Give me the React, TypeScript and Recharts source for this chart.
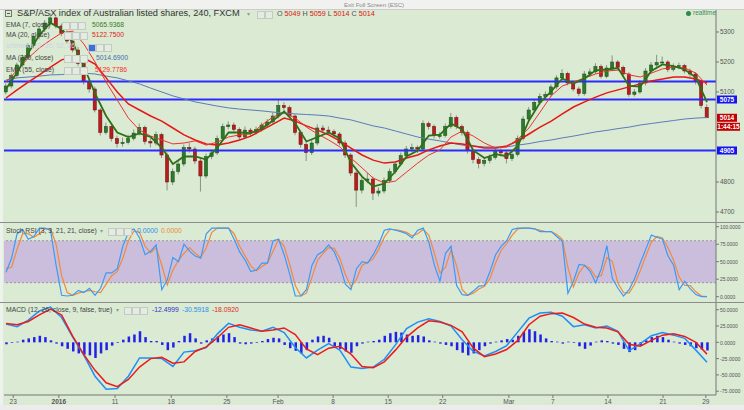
import React from "react";
import { ComposedChart, Bar, Line, XAxis, YAxis, ReferenceLine, ReferenceArea } from "recharts";

const FONT = "'Liberation Sans', Arial, sans-serif";
const BG = "#daead3";
const X_DOMAIN: [number, number] = [-0.36, 127.62];

// date ticks, in 4h-bar-pair index units
const dateTicks = [1.3, 9.5, 19.6, 29.7, 39.7, 48.9, 58.8, 68.7, 78.5, 90.4, 98.3, 108.2, 118.1, 125.8];
const dateLabels = ["23", "2016", "11", "18", "25", "Feb", "8", "15", "22", "Mar", "7", "14", "21", "29"];

// [open, high, low, close]
const candles: [number, number, number, number][] = [
  [5100, 5128, 5092, 5120], [5120, 5162, 5112, 5155], [5155, 5198, 5148, 5190], [5190, 5224, 5182, 5215],
  [5215, 5262, 5208, 5255], [5255, 5294, 5246, 5285], [5285, 5318, 5276, 5310], [5310, 5340, 5300, 5330],
  [5330, 5362, 5322, 5347], [5347, 5352, 5312, 5320], [5320, 5328, 5286, 5295], [5295, 5305, 5262, 5270],
  [5270, 5278, 5232, 5240], [5240, 5250, 5186, 5195], [5195, 5204, 5125, 5135], [5135, 5148, 5098, 5110],
  [5110, 5118, 5032, 5040], [5040, 5046, 4955, 4965], [4965, 4998, 4958, 4985], [4985, 4992, 4935, 4945],
  [4945, 4955, 4915, 4928], [4928, 4948, 4918, 4932], [4932, 4958, 4925, 4945], [4945, 4975, 4938, 4963],
  [4963, 4995, 4955, 4982], [4982, 4988, 4925, 4935], [4935, 4945, 4915, 4930], [4930, 4968, 4922, 4958],
  [4958, 4964, 4880, 4890], [4890, 4898, 4772, 4800], [4800, 4845, 4790, 4835], [4835, 4870, 4826, 4860],
  [4860, 4925, 4852, 4915], [4915, 4930, 4898, 4910], [4910, 4918, 4860, 4870], [4870, 4880, 4768, 4820],
  [4820, 4895, 4812, 4885], [4885, 4908, 4876, 4897], [4897, 4955, 4890, 4945], [4945, 4995, 4938, 4985],
  [4985, 5002, 4976, 4990], [4990, 4998, 4966, 4975], [4975, 4982, 4940, 4950], [4950, 4985, 4944, 4973],
  [4973, 4980, 4952, 4965], [4965, 4985, 4958, 4975], [4975, 4998, 4968, 4990], [4990, 5010, 4982, 5000],
  [5000, 5032, 4994, 5020], [5020, 5075, 5012, 5055], [5055, 5066, 5038, 5048], [5048, 5055, 5012, 5020],
  [5020, 5026, 4956, 4965], [4965, 4972, 4915, 4925], [4925, 4932, 4870, 4898], [4898, 4940, 4890, 4930],
  [4930, 4992, 4922, 4980], [4980, 4990, 4962, 4973], [4973, 4985, 4958, 4968], [4968, 4976, 4950, 4960],
  [4960, 4966, 4922, 4930], [4930, 4938, 4880, 4890], [4890, 4896, 4820, 4830], [4830, 4838, 4717, 4773],
  [4773, 4815, 4762, 4805], [4805, 4830, 4796, 4810], [4810, 4818, 4740, 4763], [4763, 4782, 4752, 4770],
  [4770, 4815, 4762, 4805], [4805, 4845, 4798, 4835], [4835, 4870, 4826, 4860], [4860, 4898, 4852, 4888],
  [4888, 4920, 4880, 4910], [4910, 4928, 4900, 4915], [4915, 4922, 4896, 4910], [4910, 5005, 4904, 4995],
  [4995, 5002, 4975, 4985], [4985, 4992, 4945, 4955], [4955, 4966, 4944, 4955], [4955, 4995, 4948, 4985],
  [4985, 5030, 4978, 5015], [5015, 5022, 4976, 4985], [4985, 4992, 4955, 4965], [4965, 4972, 4895, 4905],
  [4905, 4912, 4862, 4875], [4875, 4884, 4845, 4862], [4862, 4882, 4852, 4872], [4872, 4892, 4862, 4882],
  [4882, 4915, 4875, 4905], [4905, 4912, 4885, 4897], [4897, 4904, 4862, 4878], [4878, 4900, 4870, 4892],
  [4892, 4955, 4885, 4945], [4945, 5020, 4938, 5010], [5010, 5050, 5002, 5040], [5040, 5075, 5032, 5065],
  [5065, 5095, 5058, 5085], [5085, 5102, 5076, 5092], [5092, 5126, 5084, 5117], [5117, 5156, 5110, 5147],
  [5147, 5176, 5140, 5162], [5162, 5168, 5122, 5130], [5130, 5138, 5102, 5110], [5110, 5118, 5086, 5095],
  [5095, 5170, 5088, 5160], [5160, 5178, 5150, 5167], [5167, 5196, 5160, 5185], [5185, 5192, 5145, 5152],
  [5152, 5190, 5146, 5180], [5180, 5222, 5172, 5200], [5200, 5206, 5174, 5182], [5182, 5188, 5152, 5160],
  [5160, 5166, 5084, 5092], [5092, 5110, 5085, 5100], [5100, 5140, 5094, 5130], [5130, 5180, 5122, 5170],
  [5170, 5200, 5162, 5190], [5190, 5224, 5182, 5198], [5198, 5218, 5190, 5200], [5200, 5206, 5166, 5175],
  [5175, 5195, 5168, 5185], [5185, 5198, 5176, 5188], [5188, 5194, 5162, 5170], [5170, 5178, 5150, 5160],
  [5160, 5166, 5125, 5135], [5135, 5140, 5045, 5055], [5049, 5059, 5014, 5014],
];

// moving averages, one value every second bar
const ema7 = [
  5110, 5165, 5230, 5290, 5330, 5310, 5265, 5185, 5095, 5020,
  4965, 4950, 4962, 4950, 4915, 4860, 4885, 4885, 4875, 4915,
  4965, 4965, 4963, 4978, 5005, 5035, 4995, 4935, 4950, 4965,
  4945, 4865, 4818, 4785, 4795, 4835, 4885, 4905, 4955, 4958,
  4995, 4975, 4905, 4880, 4893, 4886, 4920, 5005, 5065, 5102,
  5145, 5128, 5145, 5172, 5175, 5180, 5120, 5118, 5170, 5192,
  5186, 5175, 5148, 5066,
];
const ma20 = [
  5133, 5173, 5213, 5247, 5273, 5297, 5303, 5260, 5200, 5133,
  5073, 5013, 4973, 4953, 4940, 4927, 4930, 4937, 4923, 4933,
  4950, 4957, 4960, 4990, 5017, 5030, 5013, 4983, 4960, 4940,
  4917, 4880, 4847, 4813, 4797, 4803, 4833, 4863, 4890, 4907,
  4950, 4970, 4953, 4930, 4913, 4917, 4943, 4980, 5033, 5087,
  5120, 5133, 5147, 5160, 5170, 5173, 5157, 5150, 5163, 5177,
  5183, 5180, 5163, 5123,
];
const ema55 = [
  5080, 5107, 5133, 5157, 5183, 5207, 5217, 5213, 5193, 5147,
  5100, 5060, 5040, 5020, 5003, 4980, 4957, 4940, 4927, 4923,
  4930, 4940, 4953, 4973, 4993, 5013, 5003, 4987, 4973, 4957,
  4937, 4913, 4890, 4873, 4863, 4867, 4880, 4890, 4907, 4920,
  4930, 4927, 4920, 4913, 4913, 4920, 4937, 4960, 4983, 5003,
  5027, 5050, 5067, 5083, 5097, 5107, 5117, 5127, 5137, 5143,
  5150, 5150, 5143, 5130,
];
const ma200 = [
  5140, 5147, 5150, 5153, 5157, 5158, 5162, 5163, 5160, 5153,
  5147, 5137, 5127, 5113, 5100, 5087, 5077, 5067, 5060, 5053,
  5047, 5043, 5040, 5037, 5033, 5030, 5027, 5025, 5023, 5020,
  5013, 5007, 4997, 4987, 4980, 4970, 4960, 4950, 4943, 4937,
  4930, 4923, 4920, 4917, 4917, 4917, 4923, 4928, 4935, 4940,
  4947, 4953, 4960, 4967, 4972, 4978, 4983, 4990, 4995, 5000,
  5005, 5010, 5013, 5015,
];

const levels = [5135, 5075, 4905];
const taggedLevels = [5075, 4905];
const lastPrice = 5014;
const timer = "1:44:15";

// Stoch RSI, one value per bar
const stochK = [
  35, 55, 90, 96, 82, 86, 98, 98, 95, 45,
  2, 1, 2, 9, 6, 12, 2, 12, 34, 34,
  40, 72, 92, 97, 84, 60, 65, 74, 10, 24,
  56, 50, 75, 65, 58, 55, 90, 98, 98, 98,
  98, 82, 64, 52, 36, 38, 48, 48, 80, 82,
  60, 32, 1, 1, 10, 45, 60, 65, 74, 64,
  45, 18, 10, 40, 50, 48, 60, 75, 95, 97,
  95, 93, 90, 84, 95, 98, 78, 45, 22, 62,
  72, 16, 3, 2, 8, 15, 16, 36, 60, 72,
  80, 96, 98, 98, 98, 97, 93, 93, 93, 86,
  79, 5, 22, 46, 45, 36, 20, 40, 73, 26,
  12, 1, 10, 26, 48, 68, 88, 85, 82, 58,
  45, 10, 22, 11, 3, 0, 0,
];
const stochD = [
  40, 42, 68, 90, 90, 85, 90, 97, 97, 75,
  30, 6, 2, 5, 7, 9, 7, 6, 18, 30,
  36, 55, 80, 94, 92, 72, 63, 70, 45, 17,
  38, 52, 62, 70, 62, 56, 70, 92, 98, 98,
  98, 90, 72, 58, 44, 37, 43, 48, 65, 82,
  72, 46, 16, 1, 5, 28, 52, 62, 70, 69,
  55, 32, 14, 25, 45, 49, 54, 68, 85, 96,
  96, 94, 92, 87, 90, 96, 88, 62, 34, 42,
  67, 44, 10, 2, 5, 11, 15, 26, 48, 66,
  76, 88, 97, 98, 98, 97, 95, 93, 93, 89,
  82, 42, 14, 34, 45, 40, 28, 30, 56, 50,
  19, 6, 5, 18, 37, 58, 78, 86, 84, 70,
  52, 28, 16, 16, 7, 1, 0,
];

// MACD lines every second bar, histogram per bar
const macdLine = [
  28, 24, 34, 48, 54, 38, 8, -20, -52, -72,
  -71, -52, -24, -24, -25, -37, -15, -13, -8, 13,
  29, 23, 19, 17, 23, 15, -8, -24, -12, -2,
  -12, -38, -40, -38, -26, -4, 21, 31, 36, 32,
  25, 4, -14, -21, -14, -5, 16, 37, 45, 46,
  40, 24, 27, 22, 25, 17, -13, -2, 10, 15,
  11, 6, -12, -30.6,
];
const signalLine = [
  29, 27, 32, 42, 51, 42, 9, -19, -43, -62,
  -68, -57, -38, -25, -23, -32, -30, -14, -7, 7,
  23, 27, 22, 17, 19, 22, 12, -10, -19, -9,
  -6, -18, -37, -39, -30, -12, 8, 22, 33, 31,
  26, 16, -9, -22, -18, -11, 3, 27, 40, 44,
  45, 38, 28, 23, 22, 16, -3, -6, 3, 11,
  13, 9, 0, -18.1,
];
const macdHist = [
  -3, -1, 1, 4, 6, 8, 10, 8, 3, -2,
  -6, -10, -14, -17, -19, -20, -24, -17, -12, -5,
  -1, 4, 9, 12, 17, 8, 2, 2, -4, -12,
  -8, 2, 10, 14, 6, -2, 3, 6, 9, 12,
  14, 8, -2, -3, -2, -1, 2, 5, 7, 6,
  -4, -9, -13, -17, -12, 4, 9, 10, 7, -6,
  -10, -14, -16, -6, -2, 1, 2, 4, 10, 14,
  16, 15, 12, 10, 11, 9, 3, 1, -2, -4,
  -6, -12, -16, -20, -17, -12, -6, -2, 1, 3,
  5, 4, 10, 16, 20, 17, 12, 6, 2, 1,
  -2, 1, -1, -6, -10, -5, 1, 3, 2, -2,
  -4, -10, -15, -12, -5, 3, 8, 10, 8, 4,
  1, -2, -4, -6, -9, -11, -12.5,
];

const candleRows = candles.map(([o, h, l, c], i) => ({ i, range: [l, h], ohlc: [o, h, l, c] }));
const everyOther = (vals: number[]) => vals.map((v, k) => ({ i: k * 2, v }));
const stochRows = stochK.map((k, i) => ({ i, k, d: stochD[i] }));
const histRows = macdHist.map((v, i) => ({ i, v }));

function Candle(props: any) {
  const { x, y, width, height, payload } = props;
  if (payload == null || height == null) return null;
  const [o, h, l, c] = payload.ohlc;
  const top = Math.min(y, y + height);
  const hh = Math.abs(height);
  const py = (v: number) => top + ((h - v) / (h - l || 1)) * hh;
  const cx = x + width / 2;
  const up = c >= o;
  const bTop = py(Math.max(o, c));
  const bBot = py(Math.min(o, c));
  return (
    <g>
      <line x1={cx} x2={cx} y1={top} y2={top + hh} stroke="#8a9287" strokeWidth={1} />
      <rect
        x={cx - 1.6}
        y={bTop}
        width={3.2}
        height={Math.max(1, bBot - bTop)}
        fill={up ? "#2c7a2c" : "#b81d1d"}
        stroke={up ? "#174a17" : "#6a0c0c"}
        strokeWidth={0.5}
      />
    </g>
  );
}

function PriceTag(props: any) {
  const { viewBox, text, color, sub } = props;
  if (!viewBox) return null;
  const x = viewBox.x + viewBox.width + 1;
  const y = viewBox.y;
  return (
    <g>
      <rect x={x} y={y - 4} width={20} height={8} fill={color} />
      <text x={x + 10} y={y + 2.5} fontSize={6.5} fontWeight="bold" fill="#fff" textAnchor="middle" fontFamily={FONT}>
        {text}
      </text>
      {sub && (
        <>
          <rect x={x} y={y + 5} width={23} height={8} fill={color} />
          <text x={x + 11.5} y={y + 11.5} fontSize={6.5} fontWeight="bold" fill="#fff" textAnchor="middle" fontFamily={FONT}>
            {sub}
          </text>
        </>
      )}
    </g>
  );
}

function PriceTick(props: any) {
  const { x, y, payload } = props;
  return (
    <text x={x} y={y + 2.2} fontSize={6.5} fill="#555" fontFamily={FONT}>
      {payload.value}
    </text>
  );
}

function FixedTick(props: any) {
  const { x, y, payload } = props;
  const s = Number(payload.value).toFixed(4);
  return (
    <text x={x} y={y + 2.2} fontSize={6} fill="#555" fontFamily={FONT} textLength={s.length * 2.55} lengthAdjust="spacingAndGlyphs">
      {s}
    </text>
  );
}

function DateTick(props: any) {
  const { x, y, payload } = props;
  const label = dateLabels[dateTicks.indexOf(payload.value)] ?? "";
  return (
    <text x={x} y={y + 5} textAnchor="middle" fontSize={6.5} fill="#555" fontFamily={FONT} fontWeight={label === "2016" ? "bold" : "normal"}>
      {label}
    </text>
  );
}

function Txt({ x, y, size = 6.8, color = "#444", children, bold = false }: any) {
  return (
    <div
      style={{
        position: "absolute",
        left: x,
        top: y - (size + 2) / 2,
        fontSize: size,
        lineHeight: `${size + 2}px`,
        color,
        whiteSpace: "nowrap",
        fontWeight: bold ? "bold" : "normal",
      }}
    >
      {children}
    </div>
  );
}

function Icons({ x, y, first, count = 3 }: { x: number; y: number; first?: string; count?: number }) {
  return (
    <>
      {Array.from({ length: count }, (_, k) => (
        <div
          key={k}
          style={{
            position: "absolute",
            left: x + k * 8,
            top: y - 3,
            width: 6,
            height: 6,
            border: "1px solid #c4cbc2",
            background: k === 0 && first ? first : "#e4ebe2",
          }}
        />
      ))}
    </>
  );
}

const yAxisStyle = {
  orientation: "right" as const,
  width: 28,
  axisLine: { stroke: "#777" },
  tickLine: { stroke: "#777" },
  tickSize: 3,
  tickMargin: 1,
  interval: 0 as const,
  allowDataOverflow: true,
};

export default function App() {
  return (
    <div style={{ position: "absolute", left: 0, top: 0, width: 744, height: 410, background: BG, overflow: "hidden", fontFamily: FONT }}>
      <div style={{ position: "absolute", left: 0, top: 0, width: 744, height: 9, background: "#f1f2f0", borderBottom: "1px solid #c9cfc7" }} />
      <Txt x={344} y={4.5} size={6} color="#888">Exit Full Screen (ESC)</Txt>
      <div style={{ position: "absolute", left: 0, top: 10, width: 3, height: 395, background: "#eef2ec" }} />

      <div style={{ position: "absolute", left: 0, top: 10 }}>
        <ComposedChart width={744} height={212} data={candleRows} margin={{ top: 0, right: 0, bottom: 0, left: 4 }}>
          <XAxis type="number" dataKey="i" domain={X_DOMAIN} hide allowDataOverflow />
          <YAxis {...yAxisStyle} domain={[4666.7, 5373.3]} ticks={[4700, 4800, 5100, 5200, 5300]} tick={<PriceTick />} />
          {levels.map((lv) => (
            <ReferenceLine
              key={lv}
              y={lv}
              stroke="#2a2cff"
              strokeWidth={2}
              label={taggedLevels.includes(lv) ? <PriceTag text={String(lv)} color="#1414f0" /> : undefined}
            />
          ))}
          <ReferenceLine y={lastPrice} stroke="none" label={<PriceTag text={String(lastPrice)} color="#c40000" sub={timer} />} />
          <Line data={everyOther(ma200)} dataKey="v" stroke="#5b7bbb" strokeWidth={1} dot={false} isAnimationActive={false} />
          <Line data={everyOther(ema55)} dataKey="v" stroke="#e81616" strokeWidth={1.5} dot={false} isAnimationActive={false} />
          <Line data={everyOther(ma20)} dataKey="v" stroke="#f23030" strokeWidth={1} dot={false} isAnimationActive={false} />
          <Bar dataKey="range" barSize={3} shape={<Candle />} isAnimationActive={false} />
          <Line data={everyOther(ema7)} dataKey="v" stroke="#2f6f17" strokeWidth={1.8} dot={false} isAnimationActive={false} />
        </ComposedChart>
      </div>

      <div style={{ position: "absolute", left: 0, top: 222, width: 744, height: 1, background: "#8c8c8c" }} />

      <div style={{ position: "absolute", left: 0, top: 223 }}>
        <ComposedChart width={744} height={79} data={stochRows} margin={{ top: 0, right: 0, bottom: 0, left: 4 }}>
          <XAxis type="number" dataKey="i" domain={X_DOMAIN} hide allowDataOverflow />
          <YAxis {...yAxisStyle} domain={[-7.6, 105.3]} ticks={[0, 25, 50, 75, 100]} tick={<FixedTick />} />
          <ReferenceArea y1={20} y2={80} fill="#cbbedd" fillOpacity={1} stroke="none" />
          <ReferenceLine y={80} stroke="#999" strokeDasharray="2 2" />
          <ReferenceLine y={20} stroke="#999" strokeDasharray="2 2" />
          <Line dataKey="d" stroke="#f5883a" strokeWidth={1.2} dot={false} isAnimationActive={false} />
          <Line dataKey="k" stroke="#3b9af5" strokeWidth={1.2} dot={false} isAnimationActive={false} />
        </ComposedChart>
      </div>

      <div style={{ position: "absolute", left: 0, top: 302, width: 744, height: 1, background: "#8c8c8c" }} />

      <div style={{ position: "absolute", left: 0, top: 303 }}>
        <ComposedChart width={744} height={102} data={histRows} margin={{ top: 0, right: 0, bottom: 0, left: 4 }}>
          <XAxis
            type="number"
            dataKey="i"
            domain={X_DOMAIN}
            ticks={dateTicks}
            allowDataOverflow
            height={10}
            tickSize={3}
            tickMargin={1}
            axisLine={{ stroke: "#777" }}
            tickLine={{ stroke: "#777" }}
            tick={<DateTick />}
            interval={0}
          />
          <YAxis {...yAxisStyle} domain={[-80.8, 60.3]} ticks={[-75, -50, -25, 0, 25, 50]} tick={<FixedTick />} />
          <Bar dataKey="v" barSize={2.5} fill="#2222e6" isAnimationActive={false} />
          <Line data={everyOther(macdLine)} dataKey="v" stroke="#1e90f5" strokeWidth={1.5} dot={false} isAnimationActive={false} />
          <Line data={everyOther(signalLine)} dataKey="v" stroke="#ee1a1a" strokeWidth={1.5} dot={false} isAnimationActive={false} />
        </ComposedChart>
      </div>

      <div style={{ position: "absolute", left: 0, top: 405, width: 744, height: 5, background: "#ececec" }} />

      {/* main legend */}
      <div style={{ position: "absolute", left: 5, top: 10, width: 7, height: 7, border: "1px solid #777", boxSizing: "border-box" }}>
        <div style={{ position: "absolute", left: 1, top: 2, width: 3, height: 1, background: "#555" }} />
      </div>
      <Txt x={17} y={13.5} size={9.2} color="#333">S&amp;P/ASX index of Australian listed shares, 240, FXCM</Txt>
      <Txt x={247} y={13.5} size={6} color="#999">▾</Txt>
      <Icons x={257} y={13.5} count={2} />
      <Txt x={277} y={13.5} size={7.2} color="#555">
        O <span style={{ color: "#e01010" }}>5049</span> H <span style={{ color: "#e01010" }}>5059</span> L{" "}
        <span style={{ color: "#e01010" }}>5014</span> C <span style={{ color: "#e01010" }}>5014</span>
      </Txt>
      <div style={{ position: "absolute", left: 686, top: 11, width: 5, height: 5, borderRadius: 3, background: "#2d8a4e" }} />
      <Txt x={693} y={13.5} size={6.5} color="#3f8f5a">realtime</Txt>

      <Txt x={6} y={25}>EMA (7, close)</Txt>
      <Icons x={62} y={25} />
      <Txt x={92} y={25} color="#3b7a1e">5065.9368</Txt>

      <Txt x={6} y={35}>MA (20, close)</Txt>
      <Icons x={64} y={35} />
      <Txt x={92} y={35} color="#e02020">5122.7500</Txt>

      <Txt x={6} y={46.5} color="#cfd4e4">Ichimoku (9, 26, 52, 26)</Txt>
      <Icons x={88} y={46.5} first="#3b6fe0" />

      <Txt x={6} y={58}>MA (200, close)</Txt>
      <Icons x={64} y={58} />
      <Txt x={96} y={58} color="#4a6db0">5014.6900</Txt>

      <Txt x={6} y={70}>EMA (55, close)</Txt>
      <Icons x={64} y={70} />
      <Txt x={95} y={70} color="#ff2a2a">5129.7786</Txt>

      {/* stoch legend */}
      <Txt x={6} y={231}>Stoch RSI (3, 3, 21, 21, close)</Txt>
      <Txt x={100} y={231} size={6} color="#999">▾</Txt>
      <Icons x={108} y={231} />
      <Txt x={137} y={231} color="#2e8ff0">0.0000</Txt>
      <Txt x={161} y={231} color="#f08a30">0.0000</Txt>

      {/* macd legend */}
      <Txt x={6} y={310}>MACD (12, 26, close, 9, false, true)</Txt>
      <Txt x={116} y={310} size={6} color="#999">▾</Txt>
      <Icons x={124} y={310} />
      <Txt x={152} y={310} color="#3232c8">-12.4999</Txt>
      <Txt x={182} y={310} color="#2a8ff0">-30.5918</Txt>
      <Txt x={212} y={310} color="#e81c1c">-18.0920</Txt>
    </div>
  );
}
